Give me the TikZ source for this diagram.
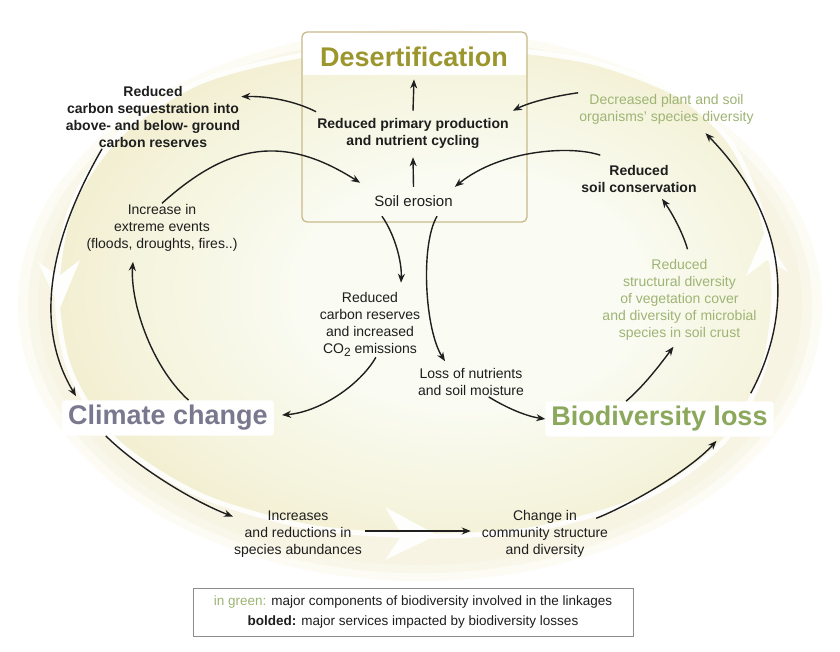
\documentclass[tikz,border=0pt]{standalone}
\usepackage{fontspec}
\setmainfont{Liberation Sans}
\usetikzlibrary{arrows.meta,calc}
\definecolor{cin}{RGB}{250,251,242}
\definecolor{cmid}{RGB}{245,244,222}
\definecolor{cout}{RGB}{241,234,199}
\definecolor{halo}{RGB}{244,240,214}
\definecolor{txtc}{RGB}{30,30,30}
\definecolor{grnc}{RGB}{158,180,116}
\definecolor{desc}{RGB}{155,150,45}
\definecolor{ccc}{RGB}{122,120,142}
\definecolor{blc}{RGB}{140,168,92}
\definecolor{boxc}{RGB}{200,186,140}
\definecolor{legc}{RGB}{140,140,140}
\pgfdeclareradialshading{creamsh}{\pgfpoint{5bp}{0bp}}{color(0bp)=(cin); color(12bp)=(cin); color(22bp)=(cmid); color(32bp)=(cout); color(50bp)=(cout)}
\begin{document}
\begin{tikzpicture}[x=1pt,y=-1pt,
  arr/.style={draw=black!88, line width=1.4pt, -{Stealth[length=9pt,width=7pt]}},
  body/.style={font=\fontsize{14}{17}\selectfont, text=txtc, align=center, inner sep=1pt},
  bodyb/.style={body, font=\fontsize{14}{17}\selectfont\bfseries},
  grnt/.style={body, text=grnc},
  ttl/.style={font=\fontsize{27}{30}\selectfont\bfseries, inner sep=1pt},
  ttlbox/.style={ttl, fill=white, inner xsep=6pt, inner ysep=5pt, rounded corners=3pt},
  wh/.style={fill=white, opacity=0.95}]
\useasboundingbox (0,0) rectangle (840,651);
\fill[white] (0,0) rectangle (840,651);
% background halo (soft fade)
\fill[halo, opacity=0.25] (420,305) ellipse [x radius=402, y radius=276];
\fill[halo, opacity=0.3] (420,305) ellipse [x radius=392, y radius=268];
\fill[halo, opacity=0.35] (420,305) ellipse [x radius=382, y radius=260];
% inner cream region
\shade[shading=creamsh] plot[smooth cycle] coordinates {(420,46) (520,51) (600,64) (680,96) (732,145) (762,215) (774,290) (763,370) (725,440) (650,495) (540,528) (430,536) (310,527) (200,495) (115,440) (70,370) (57,290) (72,205) (120,135) (200,82) (310,54)};
% white ring
\draw[white, line width=5pt, opacity=0.9] plot[smooth cycle] coordinates {(420,46) (520,51) (600,64) (680,96) (732,145) (762,215) (774,290) (763,370) (725,440) (650,495) (540,528) (430,536) (310,527) (200,495) (115,440) (70,370) (57,290) (72,205) (120,135) (200,82) (310,54)};
% white ring arrowheads
\fill[wh] (60,308) -- (38,262) -- (59,276) -- (80,260) -- cycle;
\fill[wh] (437,535) -- (385,507) -- (402,535) -- (385,560) -- cycle;
\fill[wh] (764,234) -- (746,276) -- (767,260) -- (788,272) -- cycle;
% desertification box
\fill[white] (303,33) rectangle (526,75);
\node[draw=boxc, line width=1.3pt, rounded corners=5pt, minimum width=225pt, minimum height=190pt, inner sep=0pt] (desBox) at (414.5,127) {};
\node[ttl, text=desc, anchor=base] (desT) at (414,66) {Desertification};
% text nodes
\node[bodyb] (rpp) at (413,133) {Reduced primary production\\and nutrient cycling};
\node[body, font=\fontsize{15}{17}\selectfont, inner xsep=2pt, inner ysep=9pt] (se) at (413.5,201.5) {Soil erosion};
\node[bodyb] (rcs) at (153,117) {Reduced\\carbon sequestration into\\above- and below- ground\\carbon reserves};
\node[grnt] (dps) at (666.5,109) {Decreased plant and soil\\organisms' species diversity};
\node[bodyb] (rsc) at (639,179) {Reduced\\soil conservation};
\node[body] (iee) at (162,228) {Increase in\\extreme events\\(floods, droughts, fires..)};
\node[body] (rcr) at (370,324) {Reduced\\carbon reserves\\and increased\\CO\raisebox{-3pt}{\fontsize{12}{12}\selectfont 2} emissions};
\node[body] (lns) at (471,382) {Loss of nutrients\\and soil moisture};
\node[grnt] (rsd) at (679.5,300) {Reduced\\structural diversity\\of vegetation cover\\and diversity of microbial\\species in soil crust};
\node[ttlbox, text=ccc] (cc) at (168,418) {Climate change};
\node[ttlbox, text=blc] (bl) at (659.5,419) {Biodiversity loss};
\node[body] (isa) at (298,534) {Increases\\and reductions in\\species abundances};
\node[body] (cis) at (545,534) {Change in\\community structure\\and diversity};
\node[draw=legc, line width=0.8pt, minimum width=440pt, minimum height=48pt, inner sep=0pt, align=center, font=\fontsize{13.5}{20}\selectfont, text=txtc] (leg) at (413,612) {\textcolor{grnc}{in green:} major components of biodiversity involved in the linkages\\\textbf{bolded:} major services impacted by biodiversity losses};
% connectors
\draw[arr] (se.north) -- ($(rpp.south)+(0,8)$);
\draw[arr] ($(rpp.north)+(0,-6)$) -- ($(desT.south)+(0,12)$);
\draw[arr] ($(rpp.north west)+(0,-5)$) .. controls (295,101) and (268,96) .. (rcs.13);
\draw[arr] (dps.north west) .. controls (555,96) and (530,102) .. ($(rpp.north east)+(3,-6)$);
\draw[arr] ($(rsc.north west)+(20,-9)$) .. controls (570,145) and (500,150) .. (se.north east);
\draw[arr] (iee.north) .. controls (230,142) and (285,135) .. ($(se.north west)+(-12,-4)$);
\draw[arr] (cc.41) .. controls (150,365) and (130,300) .. ($(iee.south)+(-29,9)$);
\draw[arr] (rcr.-80) .. controls (360,385) and (320,412) .. ($(cc.east)+(8,-3)$);
\draw[arr] (se.-155) .. controls (395,235) and (402,262) .. ($(rcr.north)+(31,-8)$);
\draw[arr] (se.-32) .. controls (420,245) and (425,330) .. ($(lns.north)+(-26,-6)$);
\draw[arr] (lns.-40) .. controls (505,407) and (525,416) .. (bl.west);
\draw[arr] (bl.152) .. controls (645,385) and (662,362) .. ($(rsd.south)+(-6,5)$);
\draw[arr] ($(rsd.north)+(8,-9)$) .. controls (683,233) and (672,213) .. ($(rsc.south)+(23,5)$);
\draw[arr] (rcs.-148) .. controls (55,230) and (30,320) .. ($(cc.north west)+(14,-4)$);
\draw[arr] ($(bl.north east)+(-23,-8)$) .. controls (790,320) and (795,225) .. ($(dps.south)+(39,8)$);
\draw[arr] (cc.-164) .. controls (135,465) and (190,500) .. (isa.165);
\draw[arr] ($(isa.east)+(2,-3)$) -- ($(cis.west)+(-10,-3)$);
\draw[arr] ($(cis.north east)+(-13,9)$) .. controls (630,505) and (690,470) .. ($(bl.south)+(57,4)$);
\end{tikzpicture}
\end{document}
